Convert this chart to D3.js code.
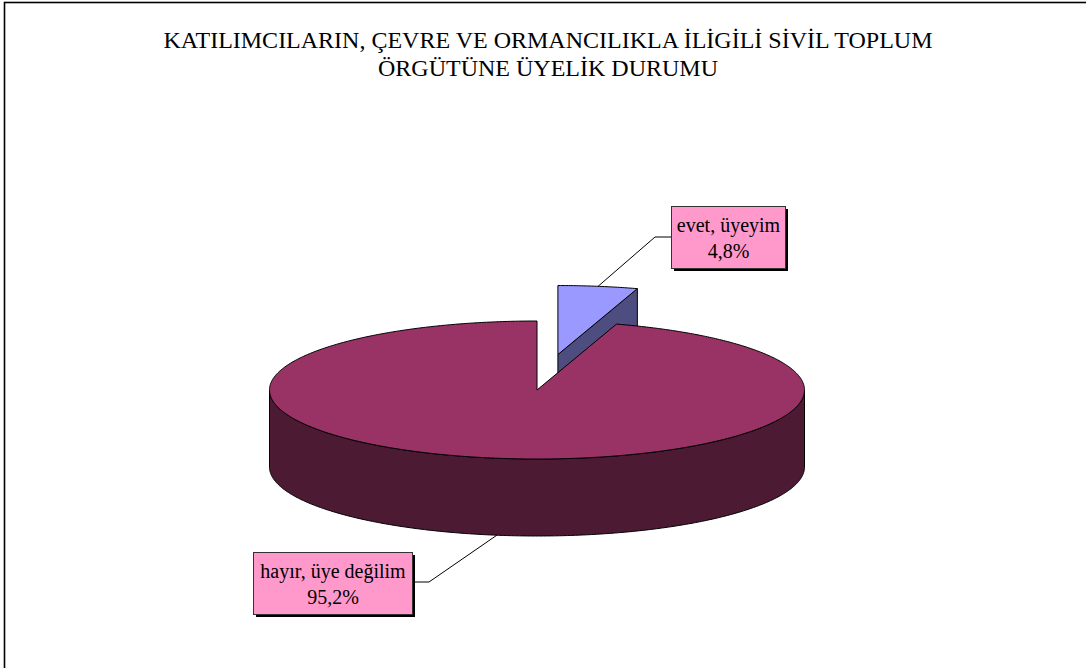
<!DOCTYPE html>
<html>
<head>
<meta charset="utf-8">
<script src="https://cdn.jsdelivr.net/npm/d3@7"></script>
<style>
	body { margin: 0; background: #fff; }
	svg { display: block; }
</style>
</head>
<body>
<svg id="canvas" width="1086" height="668"></svg>
<script>
// chart data
const categories = ["evet, üyeyim", "hayır, üye değilim"];
const values = [4.8, 95.2];
const valueLabels = ["4,8%", "95,2%"];
const explodedSlices = [true, false];
const topColors = ["#9999FF", "#993366"];
const sideColors = ["#4D4D80", "#4D1A33"];
const titleLines = [
	"KATILIMCILARIN, ÇEVRE VE ORMANCILIKLA İLİGİLİ SİVİL TOPLUM",
	"ÖRGÜTÜNE ÜYELİK DURUMU"
];

const serif = "Liberation Serif";

// pie layout (ellipse in screen space)
const cx = 537, cy = 390, rx = 267.5, ry = 69, depth = 77, explode = 0.52;

// label boxes
const boxes = [
	{ x: 671, y: 206, w: 114, h: 62, elbow: [655, 237], side: "left" },
	{ x: 253, y: 552, w: 159, h: 62, elbow: [429, 582], side: "right" }
];

const svg = d3.select("#canvas");

// chart border
svg.append("rect")
	.attr("x", 4.5).attr("y", 2.5)
	.attr("width", 1200).attr("height", 800)
	.attr("fill", "none")
	.attr("stroke", "#000")
	.attr("stroke-width", 1.6);

// title
svg.append("g")
	.selectAll("text")
	.data(titleLines)
	.join("text")
	.attr("x", 548)
	.attr("y", (d, i) => 48 + i * 28)
	.attr("text-anchor", "middle")
	.style("font-family", serif)
	.attr("font-size", 24)
	.attr("fill", "#000")
	.text(d => d);

const pie = d3.pie().sort(null).value(d => d.value);
const arcs = pie(values.map((v, i) => ({ value: v, i })));

// point on the ellipse, angle clockwise from 12 o'clock
function pt(a, off, dy) {
	return [cx + off[0] + rx * Math.sin(a), cy + off[1] - ry * Math.cos(a) + (dy || 0)];
}

function arcPoints(a0, a1, off, dy) {
	const n = Math.max(2, Math.ceil(Math.abs(a1 - a0) / 0.01));
	return d3.range(n + 1).map(k => pt(a0 + (a1 - a0) * k / n, off, dy));
}

const line = d3.line();

arcs.forEach(a => {
	const mid = (a.startAngle + a.endAngle) / 2;
	a.off = explodedSlices[a.data.i]
		? [explode * rx * Math.sin(mid), -explode * ry * Math.cos(mid)]
		: [0, 0];
	a.mid = mid;
});

const g = svg.append("g");

// draw back to front: exploded small slice first
arcs.slice().sort((p, q) => (explodedSlices[q.data.i] ? 1 : 0) - (explodedSlices[p.data.i] ? 1 : 0))
	.forEach(a => {
		const i = a.data.i;
		const c = [cx + a.off[0], cy + a.off[1]];
		// radial faces
		const faces = [];
		if (Math.sin(a.endAngle) > 0.001) faces.push(a.endAngle);
		if (Math.sin(a.startAngle) < -0.001) faces.push(a.startAngle);
		faces.forEach(ang => {
			const p = pt(ang, a.off);
			g.append("path")
				.attr("d", line([c, p, [p[0], p[1] + depth], [c[0], c[1] + depth]]) + "Z")
				.attr("fill", sideColors[i])
				.attr("stroke", "#000")
				.attr("stroke-width", 1)
				.attr("stroke-linejoin", "round");
		});
		// outer curved side (front half only)
		const s = Math.max(a.startAngle, Math.PI / 2);
		const e = Math.min(a.endAngle, Math.PI * 1.5);
		if (e > s) {
			const pts = arcPoints(s, e, a.off).concat(arcPoints(e, s, a.off, depth));
			g.append("path")
				.attr("d", line(pts) + "Z")
				.attr("fill", sideColors[i])
				.attr("stroke", "#000")
				.attr("stroke-width", 1)
				.attr("stroke-linejoin", "round");
		}
		// top
		g.append("path")
			.attr("d", line([c].concat(arcPoints(a.startAngle, a.endAngle, a.off))) + "Z")
			.attr("fill", topColors[i])
			.attr("stroke", "#000")
			.attr("stroke-width", 1)
			.attr("stroke-linejoin", "round");
	});

// data labels
arcs.forEach(a => {
	const i = a.data.i;
	const b = boxes[i];
	const front = Math.cos(a.mid) < 0;
	const anchor = pt(a.mid, a.off, front ? depth : 0);
	const edge = [b.side === "left" ? b.x : b.x + b.w, b.elbow[1]];
	svg.append("path")
		.attr("d", line([anchor, b.elbow, edge]))
		.attr("fill", "none")
		.attr("stroke", "#000")
		.attr("stroke-width", 1);

	svg.append("rect")
		.attr("x", b.x + 3).attr("y", b.y + 3)
		.attr("width", b.w).attr("height", b.h)
		.attr("fill", "#000");
	svg.append("rect")
		.attr("x", b.x + 0.5).attr("y", b.y + 0.5)
		.attr("width", b.w).attr("height", b.h)
		.attr("fill", "#FF99CC")
		.attr("stroke", "#333")
		.attr("stroke-width", 1);
	[categories[i], valueLabels[i]].forEach((t, k) => {
		svg.append("text")
			.attr("x", b.x + b.w / 2 + 0.5)
			.attr("y", b.y + 25.5 + k * 26)
			.attr("text-anchor", "middle")
			.style("font-family", serif)
			.attr("font-size", 20)
			.attr("fill", "#000")
			.text(t);
	});
});
</script>
</body>
</html>
